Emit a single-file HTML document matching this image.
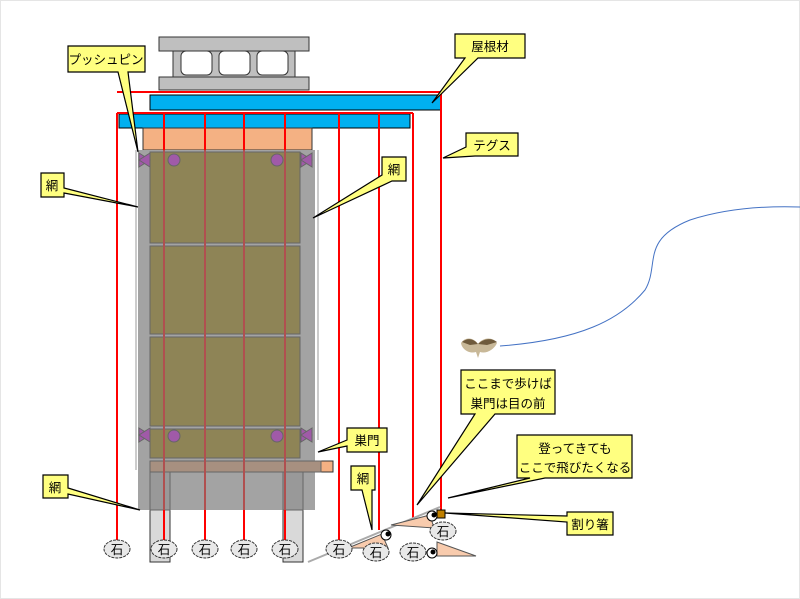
<!DOCTYPE html>
<html><head><meta charset="utf-8"><style>
body{margin:0;background:#fff}
svg{display:block}
text{font-family:"Liberation Sans","Noto Sans CJK JP",sans-serif;font-size:12.5px;fill:#000;text-anchor:middle}
.c{fill:#ffff80;stroke:#000;stroke-width:1.2}
</style></head><body>
<svg width="800" height="599" viewBox="0 0 800 599">
<rect x="0.5" y="0.5" width="799" height="598" fill="#fff" stroke="#e5e5e5"/>
<!-- concrete block -->
<rect x="173" y="50" width="122" height="28" fill="#bfbfbf" stroke="#333"/>
<rect x="159" y="37" width="150" height="14" fill="#bfbfbf" stroke="#333"/>
<rect x="159" y="77" width="150" height="13" fill="#bfbfbf" stroke="#333"/>
<rect x="181" y="51" width="31" height="24" rx="5" fill="#fff" stroke="#333"/>
<rect x="219" y="51" width="31" height="24" rx="5" fill="#fff" stroke="#333"/>
<rect x="257" y="51" width="31" height="24" rx="5" fill="#fff" stroke="#333"/>
<!-- blue bars -->
<rect x="150" y="95" width="291" height="15" fill="#00b0f0" stroke="#000"/>
<rect x="119" y="114" width="291" height="14" fill="#00b0f0" stroke="#000"/>
<!-- orange -->
<rect x="143" y="128" width="169" height="22" fill="#f4b183" stroke="#333"/>
<!-- legs -->
<rect x="150" y="470" width="20" height="92" fill="#d9d9d9" stroke="#333"/>
<rect x="283" y="470" width="20" height="92" fill="#d9d9d9" stroke="#333"/>
<rect x="321" y="461" width="12" height="11" fill="#f4b183" stroke="#333"/>
<!-- net -->
<rect x="138" y="150" width="177" height="360" fill="#a3a3a3"/>
<rect x="150" y="152" width="150" height="91" fill="#8e8456" stroke="#666"/>
<rect x="150" y="246" width="150" height="88" fill="#8e8456" stroke="#666"/>
<rect x="150" y="337" width="150" height="89" fill="#8e8456" stroke="#666"/>
<rect x="150" y="429" width="150" height="29" fill="#8e8456" stroke="#666"/>
<rect x="150" y="461" width="171" height="11" fill="#a79080" stroke="#666"/>
<rect x="150" y="472" width="20" height="38" fill="#999" stroke="#666"/>
<rect x="283" y="472" width="20" height="38" fill="#999" stroke="#666"/>
<line x1="136" y1="150" x2="136" y2="470" stroke="#ccc" stroke-width="2"/>
<line x1="318" y1="150" x2="318" y2="440" stroke="#ccc" stroke-width="2"/>
<!-- pins -->
<g fill="#a05aa8" stroke="#666">
<circle cx="174" cy="160" r="6"/><circle cx="277" cy="160" r="6"/>
<circle cx="174" cy="436" r="6"/><circle cx="277" cy="436" r="6"/>
<path d="M139 153 L150 160 L139 167 Z"/><path d="M150 153 L139 160 L150 167Z"/>
<path d="M301 153 L312 160 L301 167 Z"/><path d="M312 153 L301 160 L312 167Z"/>
<path d="M139 428 L150 435 L139 442 Z"/><path d="M150 428 L139 435 L150 442Z"/>
<path d="M301 428 L312 435 L301 442 Z"/><path d="M312 428 L301 435 L312 442Z"/>
</g>
<!-- red lines -->
<g stroke="#ff0000" stroke-width="2" fill="none">
<line x1="117" y1="92" x2="441" y2="92"/>
<line x1="117" y1="113" x2="413" y2="113"/>
<line x1="117" y1="113" x2="117" y2="545"/>
<line x1="339" y1="113" x2="339" y2="545"/>
<line x1="379" y1="113" x2="379" y2="530"/>
<line x1="413" y1="113" x2="413" y2="520"/>
<line x1="441" y1="92" x2="441" y2="510"/>
<line x1="164" y1="113" x2="164" y2="545"/>
<line x1="205" y1="113" x2="205" y2="545"/>
<line x1="244" y1="113" x2="244" y2="545"/>
<line x1="285" y1="113" x2="285" y2="545"/>
</g>
<g stroke="#b05050" stroke-width="2">
<line x1="164" y1="150" x2="164" y2="510"/><line x1="205" y1="150" x2="205" y2="510"/>
<line x1="244" y1="150" x2="244" y2="510"/><line x1="285" y1="150" x2="285" y2="510"/>
</g>
<!-- slope -->
<line x1="308" y1="562" x2="440" y2="507" stroke="#aaa" stroke-width="2"/>
<!-- wedges -->
<g fill="#f8cbad" stroke="#555">
<path d="M348 548 L382 534 L388 548 Z"/>
<path d="M391 525 L430 515 L434 528 Z"/>
<path d="M437 542 L476 556 L437 556 Z"/>
</g>
<g fill="#fff" stroke="#000"><circle cx="386" cy="535" r="5"/><circle cx="432" cy="516" r="5"/><circle cx="432" cy="553" r="5"/></g>
<g fill="#000"><circle cx="388" cy="534" r="2.5"/><circle cx="434" cy="515" r="2.5"/><circle cx="433" cy="552" r="2.5"/></g>
<rect x="437" y="510" width="8" height="8" fill="#c08000" stroke="#000"/>
<!-- stones -->
<g fill="#e8e8e8" stroke="#333" stroke-dasharray="3 1">
<ellipse cx="117" cy="549" rx="13" ry="9"/><ellipse cx="164" cy="549" rx="13" ry="9"/>
<ellipse cx="205" cy="549" rx="13" ry="9"/><ellipse cx="244" cy="549" rx="13" ry="9"/>
<ellipse cx="285" cy="549" rx="13" ry="9"/><ellipse cx="339" cy="549" rx="13" ry="9"/>
<ellipse cx="376" cy="552" rx="13" ry="9"/><ellipse cx="413" cy="552" rx="13" ry="9"/>
<ellipse cx="443" cy="531" rx="13" ry="9"/>
</g>
<g style="font-size:11px;fill:#555">
<text x="117" y="554">石</text><text x="164" y="554">石</text><text x="205" y="554">石</text>
<text x="244" y="554">石</text><text x="285" y="554">石</text><text x="339" y="554">石</text>
<text x="376" y="557">石</text><text x="413" y="557">石</text><text x="443" y="536">石</text>
</g>
<!-- moth & curve -->
<path d="M500 346 C580 340 620 320 645 290 C660 265 640 240 690 220 C730 207 770 206 800 207" fill="none" stroke="#4472c4" stroke-width="1"/>
<path d="M461 343 C466 336 474 338 478 344 C482 338 492 336 497 343 C494 350 486 354 480 352 L478 358 L476 352 C470 354 462 350 461 343 Z" fill="#c8b898"/>
<path d="M462 342 C468 337 474 339 478 344 L470 345 Z M497 342 C491 337 483 339 478 344 L487 345 Z" fill="#6e5a3c"/>
<!-- callouts -->
<path class="c" d="M68 46 H145 V72 H128 L138 152 L118 72 H68 Z"/>
<path class="c" d="M455 34 H525 V58 H478 L432 103 L465 58 H455 Z"/>
<path class="c" d="M466 133 H518 V156 H475 L443 158 L466 147 Z"/>
<path class="c" d="M41 173 H64 V188 L138 207 L64 193 V197 H41 Z"/>
<path class="c" d="M382 157 H406 V181 H392 L313 218 L382 175 Z"/>
<path class="c" d="M347 428 H387 V452 H347 V446 L318 452 L347 440 Z"/>
<path class="c" d="M351 466 H375 V490 H372 L372 530 L362 490 H351 Z"/>
<path class="c" d="M43 475 H68 V488 L140 510 L68 494 V498 H43 Z"/>
<path class="c" d="M461 370 H555 V414 H495 L417 505 L475 414 H461 Z"/>
<path class="c" d="M517 435 H632 V478 H545 L448 498 L530 478 H517 Z"/>
<path class="c" d="M567 512 H613 V535 H567 V522 L445 513 L567 516 Z"/>
<text x="106" y="64">プッシュピン</text>
<text x="490" y="51">屋根材</text>
<text x="492" y="150">テグス</text>
<text x="52" y="190">網</text>
<text x="394" y="174">網</text>
<text x="367" y="445">巣門</text>
<text x="363" y="483">網</text>
<text x="55" y="492">網</text>
<text x="508" y="388">ここまで歩けば</text>
<text x="508" y="408">巣門は目の前</text>
<text x="575" y="453">登ってきても</text>
<text x="575" y="472">ここで飛びたくなる</text>
<text x="590" y="529">割り箸</text>
</svg>
</body></html>
